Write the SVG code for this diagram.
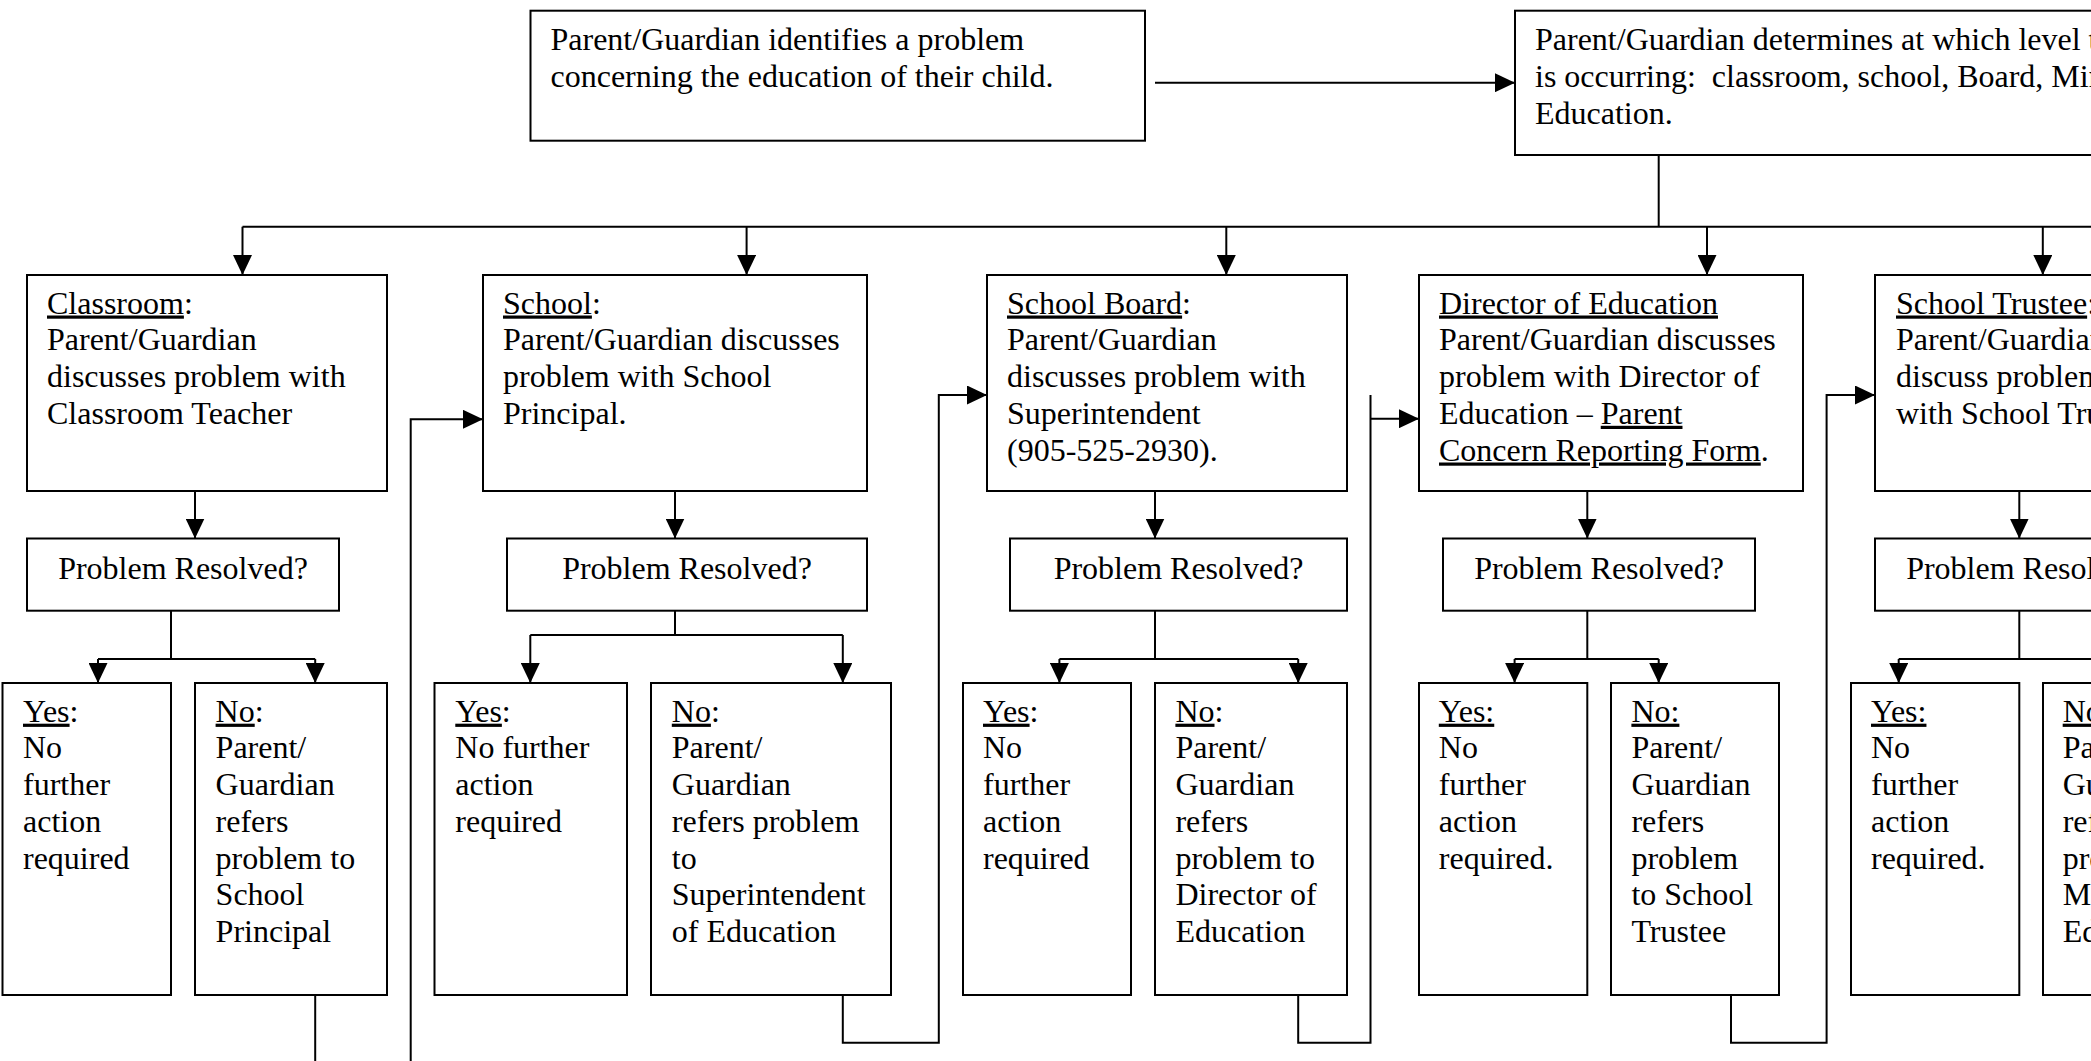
<svg xmlns="http://www.w3.org/2000/svg" width="2091" height="1061" viewBox="0 0 2091 1061">
<style>
.box{fill:#fff;stroke:#000;stroke-width:2}
.c{fill:none;stroke:#000;stroke-width:2}
.t{font-family:"Liberation Serif","Times New Roman",serif;font-size:32px;fill:#000}
.m{text-anchor:middle}
.u{text-decoration:underline}
</style>
<defs>
<marker id="ah" markerUnits="userSpaceOnUse" markerWidth="20" markerHeight="19" refX="20" refY="9.5" orient="auto">
<path d="M0,0 L20,9.5 L0,19 Z" fill="#000"/>
</marker>
</defs>
<rect width="2091" height="1061" fill="#fff"/>

<g id="connectors">
<path class="c" d="M1155,82.7 H1515" marker-end="url(#ah)"/>
<path class="c" d="M1658.7,155 V226.7"/>
<path class="c" d="M242.5,226.7 H2100"/>
<path class="c" d="M242.5,226.7 V275" marker-end="url(#ah)"/>
<path class="c" d="M746.6,226.7 V275" marker-end="url(#ah)"/>
<path class="c" d="M1226.3,226.7 V275" marker-end="url(#ah)"/>
<path class="c" d="M1707,226.7 V275" marker-end="url(#ah)"/>
<path class="c" d="M2042.8,226.7 V275" marker-end="url(#ah)"/>
<path class="c" d="M195,491 V538.5" marker-end="url(#ah)"/>
<path class="c" d="M675,491 V538.5" marker-end="url(#ah)"/>
<path class="c" d="M1155,491 V538.5" marker-end="url(#ah)"/>
<path class="c" d="M1587.3,491 V538.5" marker-end="url(#ah)"/>
<path class="c" d="M2019.3,491 V538.5" marker-end="url(#ah)"/>
<path class="c" d="M171,610.7 V659"/>
<path class="c" d="M98,659 H315.2"/>
<path class="c" d="M98,659 V683" marker-end="url(#ah)"/>
<path class="c" d="M315.2,659 V683" marker-end="url(#ah)"/>
<path class="c" d="M675,610.7 V635"/>
<path class="c" d="M530.3,635 H842.8"/>
<path class="c" d="M530.3,635 V683" marker-end="url(#ah)"/>
<path class="c" d="M842.8,635 V683" marker-end="url(#ah)"/>
<path class="c" d="M1155,610.7 V659"/>
<path class="c" d="M1059.4,659 H1298.2"/>
<path class="c" d="M1059.4,659 V683" marker-end="url(#ah)"/>
<path class="c" d="M1298.2,659 V683" marker-end="url(#ah)"/>
<path class="c" d="M1587.3,610.7 V659"/>
<path class="c" d="M1514.6,659 H1658.7"/>
<path class="c" d="M1514.6,659 V683" marker-end="url(#ah)"/>
<path class="c" d="M1658.7,659 V683" marker-end="url(#ah)"/>
<path class="c" d="M2019.3,610.7 V659"/>
<path class="c" d="M1898.7,659 H2100"/>
<path class="c" d="M1898.7,659 V683" marker-end="url(#ah)"/>
<path class="c" d="M315.2,995 V1070"/>
<path class="c" d="M410.7,1070 V419.3 H483" marker-end="url(#ah)"/>
<path class="c" d="M842.8,995 V1042.7 H938.8 V395 H987" marker-end="url(#ah)"/>
<path class="c" d="M1298.2,995 V1042.7 H1370.5 V395"/>
<path class="c" d="M1370.5,418.7 H1419" marker-end="url(#ah)"/>
<path class="c" d="M1731,995 V1042.7 H1826.6 V395 H1875" marker-end="url(#ah)"/>
</g>

<g id="identify">
<rect class="box" x="530.5" y="10.7" width="614.5" height="130"/>
<text class="t" x="550.5" y="50">Parent/Guardian identifies a problem</text>
<text class="t" x="550.5" y="87">concerning the education of their child.</text>
</g>

<g id="determine">
<rect class="box" x="1515" y="10.7" width="700" height="144.3"/>
<text class="t" x="1535" y="50">Parent/Guardian determines at which level the</text>
<text class="t" x="1535" y="87" xml:space="preserve">is occurring:  classroom, school, Board, Ministry</text>
<text class="t" x="1535" y="124">Education.</text>
</g>

<g id="classroom">
<rect class="box" x="27" y="275" width="360" height="216"/>
<text class="t" x="47" y="313.5"><tspan class="u">Classroom</tspan>:</text>
<text class="t" x="47" y="350.3">Parent/Guardian</text>
<text class="t" x="47" y="387">discusses problem with</text>
<text class="t" x="47" y="423.8">Classroom Teacher</text>
</g>

<g id="school">
<rect class="box" x="483" y="275" width="384" height="216"/>
<text class="t" x="503" y="313.5"><tspan class="u">School</tspan>:</text>
<text class="t" x="503" y="350.3">Parent/Guardian discusses</text>
<text class="t" x="503" y="387">problem with School</text>
<text class="t" x="503" y="423.8">Principal.</text>
</g>

<g id="board">
<rect class="box" x="987" y="275" width="360" height="216"/>
<text class="t" x="1007" y="313.5"><tspan class="u">School Board</tspan>:</text>
<text class="t" x="1007" y="350.3">Parent/Guardian</text>
<text class="t" x="1007" y="387">discusses problem with</text>
<text class="t" x="1007" y="423.8">Superintendent</text>
<text class="t" x="1007" y="460.5">(905-525-2930).</text>
</g>

<g id="director">
<rect class="box" x="1419" y="275" width="384" height="216"/>
<text class="t" x="1439" y="313.5"><tspan class="u">Director of Education</tspan></text>
<text class="t" x="1439" y="350.3">Parent/Guardian discusses</text>
<text class="t" x="1439" y="387">problem with Director of</text>
<text class="t" x="1439" y="423.8">Education – <tspan class="u">Parent</tspan></text>
<text class="t" x="1439" y="460.5"><tspan class="u">Concern Reporting Form</tspan>.</text>
</g>

<g id="trustee">
<rect class="box" x="1875" y="275" width="300" height="216"/>
<text class="t" x="1896" y="313.5"><tspan class="u">School Trustee</tspan>:</text>
<text class="t" x="1896" y="350.3">Parent/Guardian</text>
<text class="t" x="1896" y="387">discuss problem</text>
<text class="t" x="1896" y="423.8">with School Trustee.</text>
</g>

<g id="resolved-classroom">
<rect class="box" x="27" y="538.5" width="312" height="72.2"/>
<text class="t m" x="183" y="578.5">Problem Resolved?</text>
</g>
<g id="resolved-school">
<rect class="box" x="507" y="538.5" width="360" height="72.2"/>
<text class="t m" x="687" y="578.5">Problem Resolved?</text>
</g>
<g id="resolved-board">
<rect class="box" x="1010" y="538.5" width="337" height="72.2"/>
<text class="t m" x="1178.5" y="578.5">Problem Resolved?</text>
</g>
<g id="resolved-director">
<rect class="box" x="1443" y="538.5" width="312" height="72.2"/>
<text class="t m" x="1599" y="578.5">Problem Resolved?</text>
</g>
<g id="resolved-trustee">
<rect class="box" x="1875" y="538.5" width="312" height="72.2"/>
<text class="t m" x="2031" y="578.5">Problem Resolved?</text>
</g>

<g id="classroom-yes">
<rect class="box" x="2.5" y="683" width="168.5" height="312"/>
<text class="t" x="23" y="721.7"><tspan class="u">Yes</tspan>:</text>
<text class="t" x="23" y="758.4">No</text>
<text class="t" x="23" y="795.1">further</text>
<text class="t" x="23" y="831.8">action</text>
<text class="t" x="23" y="868.5">required</text>
</g>
<g id="classroom-no">
<rect class="box" x="195" y="683" width="192" height="312"/>
<text class="t" x="215.6" y="721.7"><tspan class="u">No</tspan>:</text>
<text class="t" x="215.6" y="758.4">Parent/</text>
<text class="t" x="215.6" y="795.1">Guardian</text>
<text class="t" x="215.6" y="831.8">refers</text>
<text class="t" x="215.6" y="868.5">problem to</text>
<text class="t" x="215.6" y="905.2">School</text>
<text class="t" x="215.6" y="941.9">Principal</text>
</g>

<g id="school-yes">
<rect class="box" x="434.5" y="683" width="192.5" height="312"/>
<text class="t" x="455.3" y="721.7"><tspan class="u">Yes</tspan>:</text>
<text class="t" x="455.3" y="758.4">No further</text>
<text class="t" x="455.3" y="795.1">action</text>
<text class="t" x="455.3" y="831.8">required</text>
</g>
<g id="school-no">
<rect class="box" x="651" y="683" width="240" height="312"/>
<text class="t" x="671.8" y="721.7"><tspan class="u">No</tspan>:</text>
<text class="t" x="671.8" y="758.4">Parent/</text>
<text class="t" x="671.8" y="795.1">Guardian</text>
<text class="t" x="671.8" y="831.8">refers problem</text>
<text class="t" x="671.8" y="868.5">to</text>
<text class="t" x="671.8" y="905.2">Superintendent</text>
<text class="t" x="671.8" y="941.9">of Education</text>
</g>

<g id="board-yes">
<rect class="box" x="963" y="683" width="168" height="312"/>
<text class="t" x="983" y="721.7"><tspan class="u">Yes</tspan>:</text>
<text class="t" x="983" y="758.4">No</text>
<text class="t" x="983" y="795.1">further</text>
<text class="t" x="983" y="831.8">action</text>
<text class="t" x="983" y="868.5">required</text>
</g>
<g id="board-no">
<rect class="box" x="1155" y="683" width="192" height="312"/>
<text class="t" x="1175.4" y="721.7"><tspan class="u">No</tspan>:</text>
<text class="t" x="1175.4" y="758.4">Parent/</text>
<text class="t" x="1175.4" y="795.1">Guardian</text>
<text class="t" x="1175.4" y="831.8">refers</text>
<text class="t" x="1175.4" y="868.5">problem to</text>
<text class="t" x="1175.4" y="905.2">Director of</text>
<text class="t" x="1175.4" y="941.9">Education</text>
</g>

<g id="director-yes">
<rect class="box" x="1419" y="683" width="168.3" height="312"/>
<text class="t" x="1438.8" y="721.7"><tspan class="u">Yes:</tspan></text>
<text class="t" x="1438.8" y="758.4">No</text>
<text class="t" x="1438.8" y="795.1">further</text>
<text class="t" x="1438.8" y="831.8">action</text>
<text class="t" x="1438.8" y="868.5">required.</text>
</g>
<g id="director-no">
<rect class="box" x="1611" y="683" width="168" height="312"/>
<text class="t" x="1631.4" y="721.7"><tspan class="u">No:</tspan></text>
<text class="t" x="1631.4" y="758.4">Parent/</text>
<text class="t" x="1631.4" y="795.1">Guardian</text>
<text class="t" x="1631.4" y="831.8">refers</text>
<text class="t" x="1631.4" y="868.5">problem</text>
<text class="t" x="1631.4" y="905.2">to School</text>
<text class="t" x="1631.4" y="941.9">Trustee</text>
</g>

<g id="trustee-yes">
<rect class="box" x="1851" y="683" width="168.3" height="312"/>
<text class="t" x="1871" y="721.7"><tspan class="u">Yes:</tspan></text>
<text class="t" x="1871" y="758.4">No</text>
<text class="t" x="1871" y="795.1">further</text>
<text class="t" x="1871" y="831.8">action</text>
<text class="t" x="1871" y="868.5">required.</text>
</g>
<g id="trustee-no">
<rect class="box" x="2043" y="683" width="168" height="312"/>
<text class="t" x="2062.7" y="721.7"><tspan class="u">No:</tspan></text>
<text class="t" x="2062.7" y="758.4">Parent/</text>
<text class="t" x="2062.7" y="795.1">Guardian</text>
<text class="t" x="2062.7" y="831.8">refers</text>
<text class="t" x="2062.7" y="868.5">problem to</text>
<text class="t" x="2062.7" y="905.2">Ministry of</text>
<text class="t" x="2062.7" y="941.9">Education</text>
</g>
</svg>
